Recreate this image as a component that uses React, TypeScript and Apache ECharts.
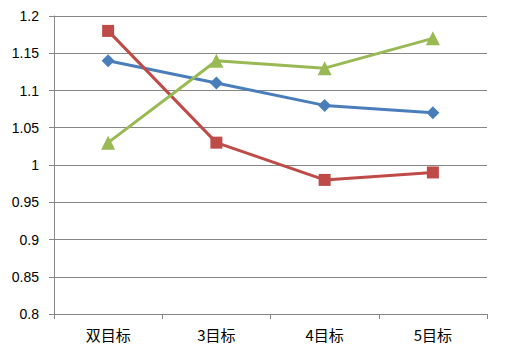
import React, { useEffect, useRef } from "react";
import * as echarts from "echarts";

const categories = ["双目标", "3目标", "4目标", "5目标"];
const blueSeries = [1.14, 1.11, 1.08, 1.07];
const redSeries = [1.18, 1.03, 0.98, 0.99];
const greenSeries = [1.03, 1.14, 1.13, 1.17];
const yTicks = { min: 0.8, max: 1.2, interval: 0.05 };

export default function App() {
  const ref = useRef<HTMLDivElement>(null);
  useEffect(() => {
    if (!ref.current) return;
    const chart = echarts.init(ref.current, null, { renderer: "svg" });
    const gray = "#868686";
    chart.setOption({
      animation: false,
      backgroundColor: "#fff",
      grid: { left: 54, right: 24, top: 16, bottom: 39 },
      xAxis: {
        type: "category",
        data: categories,
        boundaryGap: true,
        axisLine: { lineStyle: { color: gray, width: 1 } },
        axisTick: { show: true, length: 5, lineStyle: { color: gray }, alignWithLabel: false },
        axisLabel: {
          color: "#000",
          fontSize: 15,
          margin: 13,
          fontFamily: "Noto Sans CJK SC, sans-serif",
        },
      },
      yAxis: {
        type: "value",
        min: yTicks.min,
        max: yTicks.max,
        interval: yTicks.interval,
        axisLine: { show: true, lineStyle: { color: gray, width: 1 } },
        axisTick: { show: true, length: 5, lineStyle: { color: gray } },
        splitLine: { lineStyle: { color: gray, width: 1 } },
        axisLabel: {
          color: "#000",
          fontSize: 14,
          margin: 15,
          fontFamily: "Liberation Sans, sans-serif",
          formatter: (v: number) => String(parseFloat(v.toFixed(2))),
        },
      },
      series: [
        {
          type: "line",
          data: blueSeries,
          symbol: "diamond",
          symbolSize: 13,
          lineStyle: { color: "#4A7EBB", width: 3 },
          itemStyle: { color: "#4A7EBB" },
        },
        {
          type: "line",
          data: redSeries,
          symbol: "rect",
          symbolSize: 12,
          lineStyle: { color: "#BE4B48", width: 3 },
          itemStyle: { color: "#BE4B48" },
        },
        {
          type: "line",
          data: greenSeries,
          symbol: "triangle",
          symbolSize: 14,
          lineStyle: { color: "#98B954", width: 3 },
          itemStyle: { color: "#98B954" },
        },
      ],
    });
    return () => chart.dispose();
  }, []);
  return <div ref={ref} style={{ width: 511, height: 353, position: "absolute", left: 0, top: 0 }} />;
}
